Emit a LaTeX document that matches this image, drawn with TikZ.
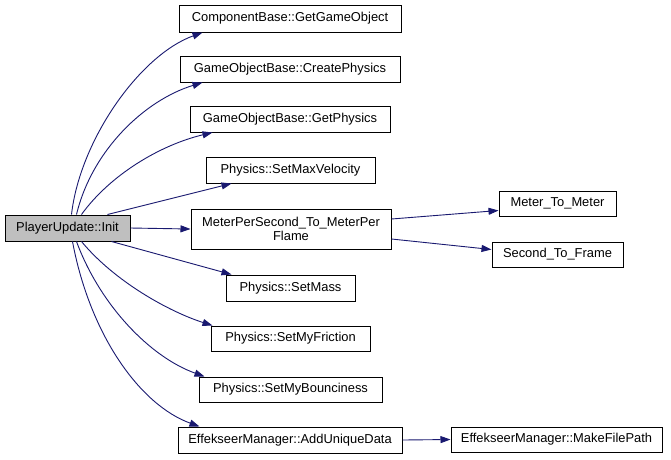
\documentclass[tikz,border=0pt]{standalone}
\usepackage{fontspec}
\setmainfont{Liberation Sans}
\usetikzlibrary{arrows.meta,calc}
\definecolor{edgeblue}{HTML}{191970}
\definecolor{initgray}{HTML}{BFBFBF}
\tikzset{
  fn/.style={draw=black, line width=1pt, fill=white, inner sep=0pt, minimum height=26pt,
    font=\fontsize{12.9pt}{14pt}\selectfont, anchor=center},
  call/.style={draw=edgeblue, line width=0.9pt, -{Triangle[length=10pt,width=7pt]}},
}
\begin{document}
\begin{tikzpicture}[x=1pt,y=-1pt]
\useasboundingbox (0,0) rectangle (671,459);
\fill[white] (0,0) rectangle (671,459);
\node[fn, fill=initgray, minimum width=125pt] (init) at (67.5,228) {PlayerUpdate::Init};
\node[fn, minimum width=222pt, minimum height=27pt] (gg) at (290,18.5) {ComponentBase::GetGameObject};
\node[fn, minimum width=220pt] (cp) at (290,69) {GameObjectBase::CreatePhysics};
\node[fn, minimum width=200pt] (gp) at (290,119) {GameObjectBase::GetPhysics};
\node[fn, minimum width=169pt] (smv) at (290.5,170) {Physics::SetMaxVelocity};
\node[fn, minimum width=200pt, minimum height=40pt, align=center] (mps) at (291,229) {MeterPerSecond\_To\_MeterPer\\Flame};
\node[fn, minimum width=129pt] (sm) at (290.5,288) {Physics::SetMass};
\node[fn, minimum width=159pt, minimum height=25pt] (smf) at (290.5,338.5) {Physics::SetMyFriction};
\node[fn, minimum width=183pt, minimum height=25pt] (smb) at (290.5,389.5) {Physics::SetMyBounciness};
\node[fn, minimum width=224pt] (aud) at (290,440) {EffekseerManager::AddUniqueData};
\node[fn, minimum width=211pt, minimum height=25pt] (mfp) at (556.5,439.5) {EffekseerManager::MakeFilePath};
\node[fn, minimum width=117pt, minimum height=25pt] (mtm) at (557.5,203.5) {Meter\_To\_Meter};
\node[fn, minimum width=131pt, minimum height=25pt] (stf) at (557.5,254.5) {Second\_To\_Frame};

\draw[call] ($(init.north west)+(67,0)$) .. controls (80,140) and (140,55) .. ($(gg.south west)+(24,0)$);
\draw[call] ($(init.north west)+(72,0)$) .. controls (92,150) and (145,100) .. ($(cp.south west)+(23,0)$);
\draw[call] ($(init.north west)+(77,0)$) .. controls (110,175) and (160,145) .. ($(gp.south west)+(23,0)$);
\draw[call] ($(init.north west)+(103,0)$) -- ($(smv.south west)+(26,0)$);
\draw[call] (init.east) -- (mps.west);
\draw[call] ($(init.south west)+(107,0)$) -- ($(sm.north west)+(6,0)$);
\draw[call] ($(init.south west)+(77,0)$) .. controls (115,282) and (170,312) .. ($(smf.north west)+(2,0)$);
\draw[call] ($(init.south west)+(72,0)$) .. controls (100,305) and (150,357) .. ($(smb.north west)+(6,0)$);
\draw[call] ($(init.south west)+(68,0)$) .. controls (90,335) and (140,405) .. ($(aud.north west)+(22,0)$);
\draw[call] ($(mps.east)+(0,-10)$) -- ($(mtm.west)+(0,7)$);
\draw[call] ($(mps.east)+(0,10)$) -- ($(stf.west)+(0,-5)$);
\draw[call] (aud.east) -- (mfp.west);
\end{tikzpicture}
\end{document}
